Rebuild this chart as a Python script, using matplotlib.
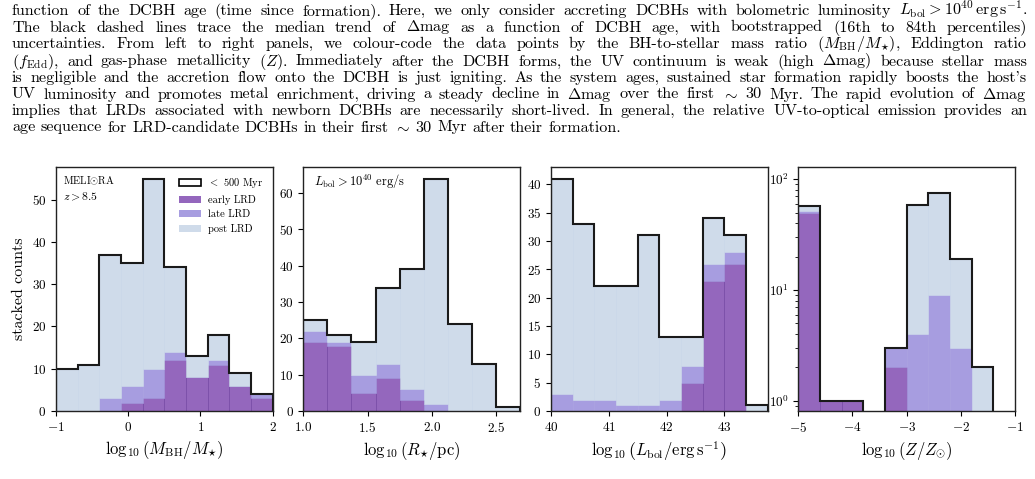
import numpy as np
import matplotlib
matplotlib.use('Agg')
import matplotlib.pyplot as plt
from matplotlib.patches import Patch

plt.rcParams.update({
    'font.family': ['cmr10', 'DejaVu Serif'],
    'mathtext.fontset': 'cm',
    'axes.formatter.use_mathtext': True,
    'axes.unicode_minus': True,
})

# ---------------- data ----------------
mbh_edges = [-1.0, -0.7, -0.4, -0.1, 0.2, 0.5, 0.8, 1.1, 1.4, 1.7, 2.0]
mbh_early = [0, 0, 0, 2, 3, 12, 8, 11, 6, 3]
mbh_late = [0, 0, 3, 4, 7, 2, 0, 1, 0, 1]
mbh_post = [10, 11, 34, 29, 45, 20, 5, 6, 3, 0]

r_edges = [1.0, 1.1875, 1.375, 1.5625, 1.75, 1.9375, 2.125, 2.3125, 2.5, 2.6875]
r_early = [19, 18, 5, 9, 3, 0, 0, 0, 0]
r_late = [3, 1, 5, 4, 3, 2, 0, 0, 0]
r_post = [3, 2, 9, 21, 33, 62, 24, 13, 1]

l_edges = [40.0, 40.375, 40.75, 41.125, 41.5, 41.875, 42.25, 42.625, 43.0, 43.375, 43.75]
l_early = [0, 0, 0, 0, 0, 0, 5, 23, 26, 0]
l_late = [3, 2, 2, 1, 1, 2, 3, 3, 2, 0]
l_post = [38, 31, 20, 21, 30, 11, 5, 8, 3, 1]

z_edges = [-5.0, -4.6, -4.2, -3.8, -3.4, -3.0, -2.6, -2.2, -1.8, -1.4]
z_early = [50, 1, 1, 0, 2, 0, 0, 0, 0]
z_late = [2, 0, 0, 0, 1, 4, 9, 3, 0]
z_post = [5, 0, 0, 0, 0, 54, 66, 16, 2]

xlabels = [r'$\log_{10}\left(M_{\rm BH}/M_{\star}\right)$',
           r'$\log_{10}\left(R_{\star}/{\rm pc}\right)$',
           r'$\log_{10}\left(L_{\rm bol}/{\rm erg\,s^{-1}}\right)$',
           r'$\log_{10}\left(Z/Z_{\odot}\right)$']
xticks = [[-1, 0, 1, 2], [1.0, 1.5, 2.0, 2.5], [40, 41, 42, 43], [-5, -4, -3, -2, -1]]
xlims = [(-1, 2), (1.0, 2.6875), (40, 43.75), (-5, -1)]

legend_labels = [r'$<$ 500 Myr', 'early LRD', 'late LRD', 'post LRD']

caption_lines = [
    r"function of the DCBH age (time since formation). Here, we only consider accreting DCBHs with bolometric luminosity $L_\mathrm{bol}>10^{40}\,\mathrm{erg\,s^{-1}}$.",
    r"The black dashed lines trace the median trend of $\Delta$mag as a function of DCBH age, with bootstrapped (16th to 84th percentiles)",
    r"uncertainties. From left to right panels, we colour-code the data points by the BH-to-stellar mass ratio ($M_\mathrm{BH}/M_{\star}$), Eddington ratio",
    r"($f_\mathrm{Edd}$), and gas-phase metallicity ($Z$). Immediately after the DCBH forms, the UV continuum is weak (high $\Delta$mag) because stellar mass",
    r"is negligible and the accretion flow onto the DCBH is just igniting. As the system ages, sustained star formation rapidly boosts the host's",
    r"UV luminosity and promotes metal enrichment, driving a steady decline in $\Delta$mag over the first $\sim$ 30 Myr. The rapid evolution of $\Delta$mag",
    r"implies that LRDs associated with newborn DCBHs are necessarily short-lived. In general, the relative UV-to-optical emission provides an",
    r"age sequence for LRD-candidate DCBHs in their first $\sim$ 30 Myr after their formation.",
]

# ---------------- style ----------------
c_early = '#9467bd'
c_late = '#a79de0'
c_post = '#cfdbea'
W, H = 1035, 479

fig = plt.figure(figsize=(W / 100, H / 100), dpi=100)

ax_left_px = [56, 303.3, 551, 798.3]
ax_w_px = 216.7
ax_top_px, ax_bot_px = 167, 411

datasets = [
    (mbh_edges, mbh_early, mbh_late, mbh_post),
    (r_edges, r_early, r_late, r_post),
    (l_edges, l_early, l_late, l_post),
    (z_edges, z_early, z_late, z_post),
]

axes = []
for i, (edges, early, late, post) in enumerate(datasets):
    ax = fig.add_axes([ax_left_px[i] / W, 1 - ax_bot_px / H,
                       ax_w_px / W, (ax_bot_px - ax_top_px) / H])
    axes.append(ax)
    edges = np.asarray(edges, float)
    early = np.asarray(early, float)
    late = np.asarray(late, float)
    post = np.asarray(post, float)
    widths = np.diff(edges)
    if i == 3:
        ax.set_yscale('log', nonpositive='clip')
    ax.bar(edges[:-1], early, width=widths, align='edge', color=c_early,
           edgecolor='#7a4ea8', linewidth=0.6)
    ax.bar(edges[:-1], late, width=widths, bottom=early, align='edge',
           color=c_late, edgecolor=c_late, linewidth=0.4)
    ax.bar(edges[:-1], post, width=widths, bottom=early + late, align='edge',
           color=c_post, edgecolor='#c8d5e8', linewidth=0.4)
    total = early + late + post
    ax.stairs(total, edges, baseline=0, color='#1a1a1a', linewidth=1.5)
    ax.set_xlim(*xlims[i])
    ax.set_xticks(xticks[i])
    if i == 3:
        ax.set_ylim(0.807, 129)
    else:
        ax.set_ylim(0, total.max() * 1.05)
    ax.set_xlabel(xlabels[i], fontsize=12, labelpad=4)
    ax.tick_params(direction='out', length=3.5, width=0.8, labelsize=9.5,
                   top=False, right=False)
    ax.tick_params(which='minor', direction='out', length=2, width=0.6)
    for s in ax.spines.values():
        s.set_linewidth(1.0)
        s.set_color('#222222')

axes[0].set_ylabel('stacked counts', fontsize=11.5, labelpad=4)
axes[0].text(0.032, 0.943, r'MELI$\odot$RA', transform=axes[0].transAxes,
             fontsize=7.5, va='center', ha='left')
axes[0].text(0.032, 0.877, r'$z>8.5$', transform=axes[0].transAxes,
             fontsize=8.5, va='center', ha='left')
handles = [Patch(facecolor='white', edgecolor='black', linewidth=1.2),
           Patch(facecolor=c_early), Patch(facecolor=c_late), Patch(facecolor=c_post)]
axes[0].legend(handles, legend_labels, loc='upper right', frameon=False,
               fontsize=7.5, labelspacing=0.45, handlelength=2.1,
               handletextpad=0.7)
axes[1].text(0.05, 0.94, r'$L_{\rm bol}>10^{40}$ erg/s', transform=axes[1].transAxes,
             fontsize=9, va='center', ha='left')

# ---------------- caption text (justified) ----------------
renderer = fig.canvas.get_renderer()
x0_px, x1_px = 12, 1027
cap_size = 11.6
baselines = [15, 31.5, 48, 65.5, 82, 98.5, 115, 131.5]
for k, line in enumerate(caption_lines):
    tokens = line.split(' ')
    ypos = 1 - baselines[k] / H
    justify = k < len(caption_lines) - 1
    size = cap_size
    while True:
        objs = [fig.text(0, ypos, t, fontsize=size, va='baseline', ha='left')
                for t in tokens]
        widths = [o.get_window_extent(renderer).width for o in objs]
        em = size * 100 / 72
        if justify and len(tokens) > 1:
            gap = (x1_px - x0_px - sum(widths)) / (len(tokens) - 1)
        else:
            gap = em * 0.333
        if gap >= em * 0.24 or size < 9:
            break
        for o in objs:
            o.remove()
        size -= 0.1
    x = x0_px
    for o, w in zip(objs, widths):
        o.set_x(x / W)
        x += w + gap

fig.savefig('out.png', dpi=100)
